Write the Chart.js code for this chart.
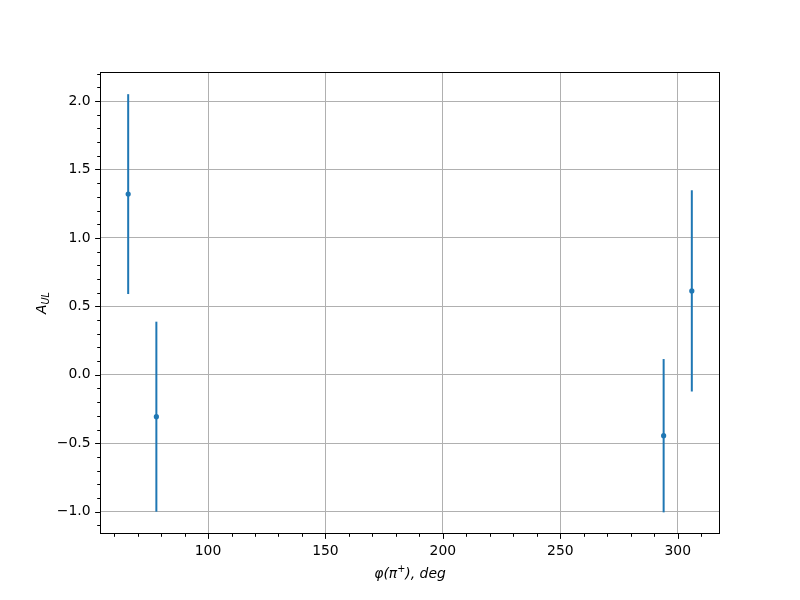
<!DOCTYPE html>
<html>
<head>
<meta charset="utf-8">
<script src="https://cdn.jsdelivr.net/npm/chart.js@4"></script>
<style>
  html, body { margin: 0; padding: 0; background: #fff; }
</style>
</head>
<body>
<canvas id="myChart" width="800" height="600"></canvas>
<script>
// Data
const phi = [66, 78, 294, 306];            // x, degrees
const aul = [1.32, -0.306, -0.445, 0.613]; // A_UL
const aulErr = [0.73, 0.694, 0.56, 0.735]; // symmetric y error

// Axis ticks
const xTicks = [100, 150, 200, 250, 300];
const xMinorTicks = [60, 70, 80, 90, 110, 120, 130, 140, 160, 170, 180, 190, 210, 220, 230, 240, 260, 270, 280, 290, 310];
const yTicks = [-1.0, -0.5, 0.0, 0.5, 1.0, 1.5, 2.0];
const yMinorTicks = [-1.1, -0.9, -0.8, -0.7, -0.6, -0.4, -0.3, -0.2, -0.1, 0.1, 0.2, 0.3, 0.4,
  0.6, 0.7, 0.8, 0.9, 1.1, 1.2, 1.3, 1.4, 1.6, 1.7, 1.8, 1.9, 2.1, 2.2];

const blue = '#1f77b4';
const tickFont = { family: 'DejaVu Sans', size: 13.9 };

const ctx = document.getElementById('myChart').getContext('2d');

// error bars, frame, tick marks and axis titles
const extras = {
    id: 'extras',
    beforeDatasetsDraw(chart) {
        const c = chart.ctx, xs = chart.scales.x, ys = chart.scales.y;
        c.save();
        c.strokeStyle = blue;
        c.lineWidth = 2;
        phi.forEach((x, i) => {
            const px = xs.getPixelForValue(x);
            c.beginPath();
            c.moveTo(px, ys.getPixelForValue(aul[i] + aulErr[i]));
            c.lineTo(px, ys.getPixelForValue(aul[i] - aulErr[i]));
            c.stroke();
        });
        c.restore();
    },
    afterDatasetsDraw(chart) {
        const c = chart.ctx, a = chart.chartArea, xs = chart.scales.x, ys = chart.scales.y;
        c.save();
        c.strokeStyle = '#000';
        c.lineWidth = 1;
        c.strokeRect(a.left + 0.5, a.top + 0.5, a.right - a.left - 1, a.bottom - a.top - 1);
        c.beginPath();
        xTicks.forEach(v => { const p = Math.round(xs.getPixelForValue(v)) + 0.5; c.moveTo(p, a.bottom); c.lineTo(p, a.bottom + 4.9); });
        xMinorTicks.forEach(v => { const p = Math.round(xs.getPixelForValue(v)) + 0.5; c.moveTo(p, a.bottom); c.lineTo(p, a.bottom + 2.8); });
        yTicks.forEach(v => { const p = Math.round(ys.getPixelForValue(v)) + 0.5; c.moveTo(a.left, p); c.lineTo(a.left - 4.9, p); });
        yMinorTicks.forEach(v => { const p = Math.round(ys.getPixelForValue(v)) + 0.5; c.moveTo(a.left, p); c.lineTo(a.left - 2.8, p); });
        c.stroke();

        // x title: φ(π⁺), deg
        c.fillStyle = '#000';
        c.textBaseline = 'alphabetic';
        const big = 'italic 13.9px "DejaVu Sans"', small = 'italic 9.7px "DejaVu Sans"';
        const parts = [['φ(π', big, 0], ['+', small, -6], ['), deg', big, 0]];
        let w = 0;
        parts.forEach(p => { c.font = p[1]; w += c.measureText(p[0]).width; });
        let x = (a.left + a.right) / 2 - w / 2;
        parts.forEach(p => { c.font = p[1]; c.fillText(p[0], x, 578 + p[2]); x += c.measureText(p[0]).width; });

        // y title: A_UL
        c.translate(46, (a.top + a.bottom) / 2);
        c.rotate(-Math.PI / 2);
        const yparts = [['A', big, 0], ['UL', small, 3]];
        w = 0;
        yparts.forEach(p => { c.font = p[1]; w += c.measureText(p[0]).width; });
        x = -w / 2;
        yparts.forEach(p => { c.font = p[1]; c.fillText(p[0], x, p[2]); x += c.measureText(p[0]).width; });
        c.restore();
    }
};

const myChart = new Chart(ctx, {
    type: 'scatter',
    data: {
        datasets: [{
            label: 'A_UL',
            data: phi.map((x, i) => ({ x: x, y: aul[i] })),
            backgroundColor: blue,
            borderColor: blue,
            pointRadius: 2.6,
            pointBorderWidth: 0,
            pointHoverRadius: 2.6
        }]
    },
    options: {
        responsive: false,
        animation: false,
        layout: { padding: { left: 0, right: 80, top: 72, bottom: 0 } },
        scales: {
            x: {
                type: 'linear',
                min: 54,
                max: 318,
                afterBuildTicks: s => { s.ticks = xTicks.map(v => ({ value: v })); },
                afterFit: s => { s.height = 66; },
                grid: { color: '#b0b0b0', lineWidth: 1, drawTicks: false },
                border: { display: false },
                ticks: { padding: 9, color: '#000', font: tickFont, maxRotation: 0 }
            },
            y: {
                type: 'linear',
                min: -1.163,
                max: 2.212,
                afterBuildTicks: s => { s.ticks = yTicks.map(v => ({ value: v })); },
                afterFit: s => { s.width = 100; },
                grid: { color: '#b0b0b0', lineWidth: 1, drawTicks: false },
                border: { display: false },
                ticks: {
                    padding: 9.5,
                    color: '#000',
                    font: tickFont,
                    callback: v => v.toFixed(1).replace('-', '\u2212')
                }
            }
        },
        plugins: {
            legend: { display: false },
            tooltip: { enabled: false }
        }
    },
    plugins: [extras]
});
</script>
</body>
</html>
